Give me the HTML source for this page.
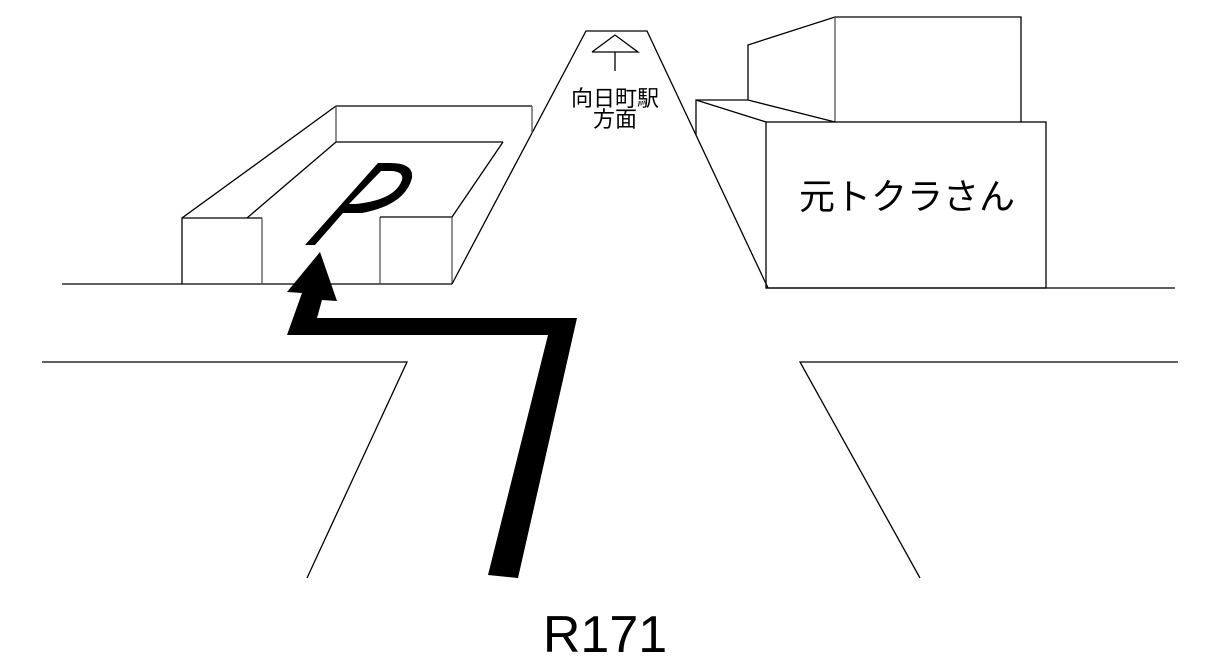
<!DOCTYPE html>
<html><head><meta charset="utf-8"><style>
html,body{margin:0;padding:0;background:#fff;}
svg{display:block;}
text{font-family:"Liberation Sans","Noto Sans CJK JP",sans-serif;}
</style></head><body>
<svg width="1224" height="669" viewBox="0 0 1224 669" xmlns="http://www.w3.org/2000/svg">
<g fill="none" stroke-width="1.3">
<line x1="62" y1="284" x2="452" y2="284" stroke="#000"/>
<line x1="766" y1="288" x2="1175" y2="288" stroke="#000"/>
<polyline points="42,362 407,362 307,578" stroke="#000"/>
<polyline points="1178,362 800,362 920,578" stroke="#000"/>
<polyline points="532,133 586,31 647,31 768,288" stroke="#000"/>
<polyline points="182,284 182,218 336,106 532,106" stroke="#000"/>
<line x1="336" y1="106" x2="336" y2="142" stroke="#555"/>
<line x1="532" y1="106" x2="532" y2="133" stroke="#555"/>
<line x1="336" y1="142" x2="503" y2="142" stroke="#000"/>
<line x1="247" y1="218" x2="336" y2="142" stroke="#000"/>
<line x1="182" y1="218" x2="262" y2="218" stroke="#000"/>
<line x1="262" y1="218" x2="262" y2="284" stroke="#555"/>
<line x1="380" y1="217" x2="380" y2="284" stroke="#555"/>
<line x1="380" y1="217" x2="452" y2="217" stroke="#000"/>
<line x1="452" y1="217" x2="452" y2="284" stroke="#555"/>
<line x1="452" y1="217" x2="503" y2="142" stroke="#000"/>
<line x1="452" y1="284" x2="532" y2="133" stroke="#000"/>
<polyline points="592,52 615,35 638,52 592,52" stroke="#000"/>
<line x1="615" y1="52" x2="615" y2="71" stroke="#000"/>
<polyline points="748,100 748,45 835,17 1021,17 1021,122" stroke="#000"/>
<line x1="835" y1="17" x2="835" y2="122" stroke="#555"/>
<polyline points="696,135 696,100 748,100 835,122" stroke="#000"/>
<line x1="696" y1="100" x2="766" y2="122" stroke="#000"/>
<rect x="766" y="122" width="280" height="166" stroke="#000"/>
</g>
<path d="M305,245 L315,245 L343,213 L362,213 Q405,205 412,178 Q414,163 390,163 L378,163 Z M381,171 L392,171 Q404,172 402,180 Q395,200 356,204 L349,204 Z" fill="#000" fill-rule="evenodd"/>
<polygon points="488,575 518,578 577,318 317,318 322,300 337,301 320,252 287,292 302,293 287,335 548,335" fill="#000"/>
<text x="615" y="106" font-size="22" text-anchor="middle">向日町駅</text>
<text x="615" y="127" font-size="22" text-anchor="middle">方面</text>
<text x="907" y="209" font-size="36" text-anchor="middle">元トクラさん</text>
<text x="605" y="652" font-size="52" text-anchor="middle">R171</text>
</svg>
</body></html>
